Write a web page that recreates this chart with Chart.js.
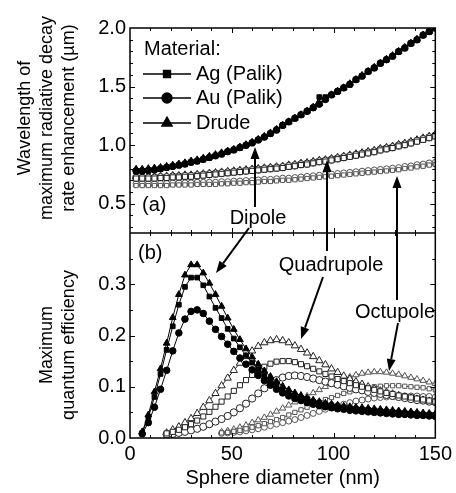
<!DOCTYPE html>
<html>
<head>
<meta charset="utf-8">
<script src="https://cdn.jsdelivr.net/npm/chart.js@4.4.0/dist/chart.umd.min.js"></script>
<style>
  html, body { margin: 0; padding: 0; background: #fff; }
  #grafico { display: block; }
</style>
</head>
<body>
<canvas id="grafico" width="456" height="493"></canvas>
<script>
// Sphere diameters (nm)
var diameters = [3, 6, 9, 12, 15, 18, 21, 24, 27, 30, 33, 36, 39, 42, 45, 48, 51, 54, 57, 60,
  63, 66, 69, 72, 75, 78, 81, 84, 87, 90, 93, 96, 99, 102, 105, 108, 111, 114, 117, 120,
  123, 126, 129, 132, 135, 138, 141, 144, 147, 150];

// (a) wavelength of maximum radiative decay rate enhancement (um)
var wlDipoleAg = [0.775, 0.775, 0.78, 0.785, 0.795, 0.805, 0.815, 0.825, 0.835, 0.85, 0.86, 0.875, 0.89, 0.905, 0.92, 0.94, 0.955, 0.975, 0.995, 1.015,
  1.04, 1.065, 1.095, 1.125, 1.165, 1.195, 1.225, 1.255, 1.285, 1.315, 1.41, 1.41, 1.425, 1.455, 1.485, 1.515, 1.555, 1.585, 1.625, 1.655,
  1.695, 1.725, 1.755, 1.795, 1.825, 1.865, 1.895, 1.935, 1.965, 1.995];
var wlDipoleAu = [0.78, 0.78, 0.785, 0.79, 0.8, 0.81, 0.82, 0.83, 0.84, 0.855, 0.865, 0.88, 0.895, 0.91, 0.925, 0.945, 0.96, 0.98, 1.0, 1.02,
  1.045, 1.07, 1.1, 1.13, 1.17, 1.2, 1.23, 1.26, 1.29, 1.32, 1.35, 1.39, 1.43, 1.46, 1.49, 1.52, 1.56, 1.59, 1.63, 1.66,
  1.7, 1.73, 1.76, 1.8, 1.83, 1.87, 1.9, 1.94, 1.97, 2.0];
var wlDipoleDrude = [0.795, 0.795, 0.8, 0.805, 0.81, 0.82, 0.83, 0.84, 0.85, 0.865, 0.875, 0.89, 0.905, 0.92, 0.935, 0.95, 0.965, 0.985, 1.005, 1.025,
  1.05, 1.075, 1.105, 1.135, 1.17, 1.2, 1.23, 1.26, 1.29, 1.325, 1.355, 1.395, 1.43, 1.46, 1.49, 1.525, 1.56, 1.595, 1.63, 1.665,
  1.7, 1.735, 1.765, 1.8, 1.835, 1.87, 1.905, 1.94, 1.97, 2.0];
var wlQuadAg = [0.715, 0.715, 0.715, 0.715, 0.72, 0.72, 0.725, 0.725, 0.73, 0.73, 0.735, 0.74, 0.745, 0.75, 0.755, 0.76, 0.765, 0.77, 0.775, 0.78,
  0.785, 0.79, 0.795, 0.8, 0.805, 0.815, 0.82, 0.83, 0.835, 0.845, 0.855, 0.86, 0.87, 0.88, 0.89, 0.9, 0.91, 0.92, 0.93, 0.94,
  0.955, 0.965, 0.975, 0.99, 1.0, 1.015, 1.03, 1.045, 1.06, 1.075];
var wlQuadAu = [0.722, 0.722, 0.722, 0.722, 0.727, 0.727, 0.732, 0.732, 0.737, 0.737, 0.742, 0.747, 0.752, 0.757, 0.762, 0.767, 0.772, 0.777, 0.782, 0.787,
  0.792, 0.797, 0.802, 0.807, 0.812, 0.822, 0.827, 0.837, 0.842, 0.852, 0.862, 0.867, 0.877, 0.887, 0.897, 0.907, 0.917, 0.927, 0.937, 0.947,
  0.962, 0.972, 0.982, 0.997, 1.007, 1.022, 1.037, 1.052, 1.067, 1.082];
var wlQuadDrude = [0.73, 0.73, 0.73, 0.73, 0.735, 0.735, 0.74, 0.74, 0.745, 0.745, 0.75, 0.755, 0.76, 0.765, 0.77, 0.775, 0.78, 0.785, 0.79, 0.795,
  0.8, 0.805, 0.81, 0.815, 0.82, 0.83, 0.835, 0.845, 0.85, 0.86, 0.87, 0.875, 0.885, 0.895, 0.905, 0.915, 0.925, 0.935, 0.945, 0.955,
  0.97, 0.98, 0.99, 1.005, 1.015, 1.03, 1.045, 1.06, 1.075, 1.09];
var wlOctAg = [0.655, 0.655, 0.655, 0.655, 0.655, 0.655, 0.66, 0.66, 0.66, 0.66, 0.665, 0.665, 0.665, 0.665, 0.67, 0.67, 0.675, 0.675, 0.68, 0.68,
  0.685, 0.69, 0.69, 0.695, 0.7, 0.7, 0.705, 0.71, 0.715, 0.72, 0.725, 0.73, 0.735, 0.74, 0.745, 0.75, 0.755, 0.76, 0.765, 0.77,
  0.775, 0.78, 0.785, 0.79, 0.8, 0.805, 0.815, 0.82, 0.83, 0.835];
var wlOctAu = [0.673, 0.673, 0.673, 0.673, 0.673, 0.673, 0.678, 0.678, 0.678, 0.678, 0.683, 0.683, 0.683, 0.683, 0.688, 0.688, 0.693, 0.693, 0.698, 0.698,
  0.703, 0.708, 0.708, 0.713, 0.718, 0.718, 0.723, 0.728, 0.733, 0.738, 0.743, 0.748, 0.753, 0.758, 0.763, 0.768, 0.773, 0.778, 0.783, 0.788,
  0.793, 0.798, 0.803, 0.808, 0.818, 0.823, 0.833, 0.838, 0.848, 0.853];
var wlOctDrude = [0.665, 0.665, 0.665, 0.665, 0.665, 0.665, 0.67, 0.67, 0.67, 0.67, 0.675, 0.675, 0.675, 0.675, 0.68, 0.68, 0.685, 0.685, 0.69, 0.69,
  0.695, 0.7, 0.7, 0.705, 0.71, 0.71, 0.715, 0.72, 0.725, 0.73, 0.735, 0.74, 0.745, 0.75, 0.755, 0.76, 0.765, 0.77, 0.775, 0.78,
  0.785, 0.79, 0.795, 0.8, 0.81, 0.815, 0.825, 0.83, 0.84, 0.845];

// (b) maximum quantum efficiency
var qeDipoleAg = [null, 0.01, 0.04, 0.08, 0.125, 0.172, 0.218, 0.26, 0.295, 0.313, 0.313, 0.298, 0.276, 0.254, 0.234, 0.213, 0.194, 0.177, 0.161, 0.147,
  0.134, 0.122, 0.111, 0.102, 0.094, 0.088, 0.083, 0.078, 0.075, 0.071, 0.068, 0.066, 0.064, 0.062, 0.06, 0.059, 0.057, 0.056, 0.055, 0.054,
  0.053, 0.052, 0.051, 0.05, 0.049, 0.048, 0.047, 0.046, 0.046, 0.045];
var qeDipoleAu = [null, 0.008, 0.03, 0.06, 0.095, 0.132, 0.17, 0.205, 0.232, 0.247, 0.25, 0.243, 0.228, 0.212, 0.198, 0.183, 0.169, 0.156, 0.144, 0.133,
  0.122, 0.112, 0.103, 0.095, 0.088, 0.082, 0.077, 0.073, 0.069, 0.066, 0.063, 0.061, 0.059, 0.057, 0.056, 0.054, 0.053, 0.052, 0.051, 0.05,
  0.049, 0.048, 0.047, 0.046, 0.046, 0.045, 0.044, 0.044, 0.043, 0.042];
var qeDipoleDrude = [null, 0.012, 0.045, 0.09, 0.135, 0.185, 0.235, 0.28, 0.318, 0.338, 0.338, 0.322, 0.302, 0.28, 0.257, 0.234, 0.212, 0.192, 0.174, 0.158,
  0.144, 0.131, 0.12, 0.11, 0.101, 0.094, 0.088, 0.083, 0.078, 0.074, 0.071, 0.068, 0.066, 0.064, 0.062, 0.061, 0.06, 0.059, 0.058, 0.057,
  0.056, 0.055, 0.054, 0.053, 0.052, 0.051, 0.05, 0.049, 0.048, 0.047];
var qeQuadAg = [null, null, null, null, null, 0.009, 0.012, 0.016, 0.021, 0.027, 0.034, 0.042, 0.051, 0.061, 0.071, 0.081, 0.092, 0.103, 0.113, 0.123,
  0.132, 0.139, 0.145, 0.149, 0.15, 0.15, 0.148, 0.144, 0.14, 0.135, 0.13, 0.125, 0.12, 0.115, 0.111, 0.107, 0.103, 0.1, 0.097, 0.094,
  0.091, 0.088, 0.086, 0.083, 0.081, 0.079, 0.077, 0.075, 0.073, 0.071];
var qeQuadAu = [null, null, null, null, null, 0.007, 0.008, 0.01, 0.012, 0.015, 0.018, 0.022, 0.027, 0.032, 0.037, 0.043, 0.05, 0.058, 0.067, 0.077,
  0.087, 0.097, 0.106, 0.113, 0.118, 0.121, 0.122, 0.121, 0.119, 0.116, 0.113, 0.11, 0.107, 0.104, 0.101, 0.098, 0.095, 0.093, 0.09, 0.088,
  0.086, 0.084, 0.082, 0.08, 0.078, 0.076, 0.074, 0.073, 0.071, 0.07];
var qeQuadDrude = [null, null, null, null, null, 0.01, 0.016, 0.022, 0.03, 0.038, 0.048, 0.06, 0.073, 0.087, 0.102, 0.117, 0.132, 0.146, 0.159, 0.17,
  0.179, 0.186, 0.19, 0.192, 0.19, 0.186, 0.18, 0.173, 0.166, 0.159, 0.151, 0.143, 0.135, 0.128, 0.121, 0.115, 0.11, 0.105, 0.1, 0.096,
  0.092, 0.089, 0.086, 0.083, 0.08, 0.078, 0.076, 0.074, 0.072, 0.07];
var qeOctAg = [null, null, null, null, null, null, null, null, null, null, null, null, null, null, 0.01, 0.011, 0.013, 0.015, 0.018, 0.021,
  0.024, 0.028, 0.032, 0.036, 0.04, 0.045, 0.05, 0.055, 0.06, 0.065, 0.07, 0.075, 0.079, 0.083, 0.087, 0.09, 0.093, 0.096, 0.098, 0.1,
  0.101, 0.102, 0.102, 0.102, 0.101, 0.1, 0.099, 0.098, 0.096, 0.094];
var qeOctAu = [null, null, null, null, null, null, null, null, null, null, null, null, null, null, 0.009, 0.01, 0.011, 0.012, 0.014, 0.016,
  0.018, 0.021, 0.024, 0.027, 0.03, 0.033, 0.036, 0.04, 0.044, 0.048, 0.052, 0.056, 0.06, 0.063, 0.066, 0.069, 0.072, 0.074, 0.076, 0.078,
  0.079, 0.08, 0.081, 0.082, 0.082, 0.082, 0.082, 0.081, 0.081, 0.08];
var qeOctDrude = [null, null, null, null, null, null, null, null, null, null, null, null, null, null, 0.012, 0.014, 0.017, 0.021, 0.025, 0.03,
  0.035, 0.04, 0.046, 0.052, 0.058, 0.064, 0.07, 0.076, 0.082, 0.088, 0.094, 0.1, 0.105, 0.11, 0.115, 0.119, 0.123, 0.126, 0.128, 0.129,
  0.129, 0.128, 0.126, 0.124, 0.121, 0.118, 0.115, 0.112, 0.109, 0.106];

// Tick labels
var xTicks = [0, 50, 100, 150];
var wlTicks = [0.5, 1.0, 1.5, 2.0];
var qeTicks = [0.0, 0.1, 0.2, 0.3];

var FONT = '"Liberation Sans", Arial, Helvetica, sans-serif';

// marker look per multipole order
var dipoleStyle = { fill: '#000', stroke: '#000', radius: 3.3 };
var quadStyle = { fill: '#fff', stroke: '#222', radius: 3.6 };
var octStyle = { fill: '#fff', stroke: '#555', radius: 3 };

function points(values) {
  var out = [];
  for (var i = 0; i < diameters.length; i++) {
    out.push({ x: diameters[i], y: values[i] });
  }
  return out;
}

function series(label, values, axis, shape, style) {
  var r = shape === 'triangle' ? style.radius + 0.6 : style.radius;
  return {
    label: label,
    data: points(values),
    yAxisID: axis,
    borderColor: style.stroke,
    borderWidth: 1,
    backgroundColor: style.fill,
    pointStyle: shape,
    pointRadius: r,
    pointBackgroundColor: style.fill,
    pointBorderColor: style.stroke,
    pointBorderWidth: 1,
    tension: 0,
    spanGaps: false
  };
}

function fixTicks(values) {
  return function(scale) {
    scale.ticks = values.map(function(v) { return { value: v }; });
  };
}

function arrow(ctx, x1, y1, x2, y2) {
  var ang = Math.atan2(y2 - y1, x2 - x1);
  var len = 12, half = 4.5;
  var bx = x2 - len * Math.cos(ang), by = y2 - len * Math.sin(ang);
  ctx.beginPath();
  ctx.moveTo(x1, y1);
  ctx.lineTo(bx, by);
  ctx.lineWidth = 2;
  ctx.strokeStyle = '#000';
  ctx.stroke();
  ctx.beginPath();
  ctx.moveTo(x2, y2);
  ctx.lineTo(bx + half * Math.sin(ang), by - half * Math.cos(ang));
  ctx.lineTo(bx - half * Math.sin(ang), by + half * Math.cos(ang));
  ctx.closePath();
  ctx.fillStyle = '#000';
  ctx.fill();
}

// frame, inward ticks, legend and annotations
var decorations = {
  id: 'decorations',
  afterDraw: function(chart) {
    var ctx = chart.ctx;
    var sx = chart.scales.x, st = chart.scales.yTop, sb = chart.scales.yBot;
    var left = sx.left, right = sx.right;
    var top = st.top, mid = st.bottom, bottom = sb.bottom;
    var d, v, px, py, len;

    ctx.save();
    ctx.strokeStyle = '#000';
    ctx.lineWidth = 1.5;
    ctx.strokeRect(left, top, right - left, bottom - top);
    ctx.beginPath();
    ctx.moveTo(left, mid);
    ctx.lineTo(right, mid);
    ctx.stroke();

    ctx.lineWidth = 1;
    ctx.beginPath();
    for (d = 10; d < 150; d += 10) {
      px = Math.round(sx.getPixelForValue(d)) + 0.5;
      len = d % 50 === 0 ? 5 : 3;
      ctx.moveTo(px, top); ctx.lineTo(px, top + len);
      ctx.moveTo(px, mid); ctx.lineTo(px, mid - len);
      ctx.moveTo(px, mid); ctx.lineTo(px, mid + len);
      ctx.moveTo(px, bottom); ctx.lineTo(px, bottom - len);
    }
    for (v = 3; v < 20; v++) {
      py = Math.round(st.getPixelForValue(v / 10)) + 0.5;
      len = v % 5 === 0 ? 5 : 3;
      ctx.moveTo(left, py); ctx.lineTo(left + len, py);
      ctx.moveTo(right, py); ctx.lineTo(right - len, py);
    }
    for (v = 1; v < 8; v++) {
      py = Math.round(sb.getPixelForValue(v / 20)) + 0.5;
      len = v % 2 === 0 ? 5 : 3;
      ctx.moveTo(left, py); ctx.lineTo(left + len, py);
      ctx.moveTo(right, py); ctx.lineTo(right - len, py);
    }
    ctx.stroke();

    // legend
    ctx.fillStyle = '#000';
    ctx.font = '20px ' + FONT;
    ctx.textAlign = 'left';
    ctx.textBaseline = 'middle';
    ctx.fillText('Material:', 144, 49);
    var legend = [['rect', 'Ag (Palik)', 74], ['circle', 'Au (Palik)', 98], ['triangle', 'Drude', 123]];
    legend.forEach(function(item) {
      ctx.beginPath();
      ctx.moveTo(143, item[2]);
      ctx.lineTo(191, item[2]);
      ctx.lineWidth = 1.3;
      ctx.strokeStyle = '#000';
      ctx.stroke();
      ctx.fillStyle = '#000';
      Chart.helpers.drawPoint(ctx, { pointStyle: item[0], rotation: 0, radius: item[0] === 'triangle' ? 6 : 5, borderWidth: 1 }, 167, item[2]);
      ctx.fillText(item[1], 196, item[2]);
    });

    ctx.fillText('(a)', 142, 205);
    ctx.fillText('(b)', 138, 253);

    ctx.textAlign = 'center';
    ctx.fillText('Dipole', 258, 218);
    ctx.fillText('Quadrupole', 331, 265);
    ctx.fillText('Octupole', 395, 312);

    arrow(ctx, 255, 207, 255, 147);
    arrow(ctx, 249, 228, 216, 273);
    arrow(ctx, 327, 251, 327, 160);
    arrow(ctx, 323, 277, 301, 339);
    arrow(ctx, 397, 300, 397, 176);
    arrow(ctx, 398, 323, 389, 371);

    // axis titles
    ctx.fillStyle = '#000';
    ctx.fillText('Sphere diameter (nm)', (left + right) / 2, 478);
    ctx.font = '18px ' + FONT;
    ctx.save();
    ctx.translate(25, 118);
    ctx.rotate(-Math.PI / 2);
    ctx.fillText('Wavelength of', 0, 0);
    ctx.fillText('maximum radiative decay', 0, 22);
    ctx.fillText('rate enhancement (\u00b5m)', 0, 44);
    ctx.restore();
    ctx.save();
    ctx.translate(47, 345);
    ctx.rotate(-Math.PI / 2);
    ctx.fillText('Maximum', 0, 0);
    ctx.fillText('quantum efficiency', 0, 22);
    ctx.restore();

    ctx.restore();
  }
};

var datasets = [
  series('Ag dipole', wlDipoleAg, 'yTop', 'rect', dipoleStyle),
  series('Au dipole', wlDipoleAu, 'yTop', 'circle', dipoleStyle),
  series('Drude dipole', wlDipoleDrude, 'yTop', 'triangle', dipoleStyle),
  series('Ag quadrupole', wlQuadAg, 'yTop', 'rect', quadStyle),
  series('Au quadrupole', wlQuadAu, 'yTop', 'circle', quadStyle),
  series('Drude quadrupole', wlQuadDrude, 'yTop', 'triangle', quadStyle),
  series('Ag octupole', wlOctAg, 'yTop', 'rect', octStyle),
  series('Au octupole', wlOctAu, 'yTop', 'circle', octStyle),
  series('Drude octupole', wlOctDrude, 'yTop', 'triangle', octStyle),
  series('Ag dipole', qeDipoleAg, 'yBot', 'rect', dipoleStyle),
  series('Au dipole', qeDipoleAu, 'yBot', 'circle', dipoleStyle),
  series('Drude dipole', qeDipoleDrude, 'yBot', 'triangle', dipoleStyle),
  series('Ag quadrupole', qeQuadAg, 'yBot', 'rect', quadStyle),
  series('Au quadrupole', qeQuadAu, 'yBot', 'circle', quadStyle),
  series('Drude quadrupole', qeQuadDrude, 'yBot', 'triangle', quadStyle),
  series('Ag octupole', qeOctAg, 'yBot', 'rect', octStyle),
  series('Au octupole', qeOctAu, 'yBot', 'circle', octStyle),
  series('Drude octupole', qeOctDrude, 'yBot', 'triangle', octStyle)
];

var tickFont = { family: FONT, size: 20 };

new Chart(document.getElementById('grafico').getContext('2d'), {
  type: 'line',
  data: { datasets: datasets },
  plugins: [decorations],
  options: {
    responsive: false,
    animation: false,
    layout: { padding: { top: 28, right: 17, bottom: 0, left: 0 } },
    plugins: { legend: { display: false }, tooltip: { enabled: false } },
    scales: {
      x: {
        type: 'linear', position: 'bottom', min: 0, max: 150,
        grid: { display: false, drawTicks: false },
        border: { display: false },
        ticks: { font: tickFont, color: '#000', padding: 4, maxRotation: 0 },
        afterBuildTicks: fixTicks(xTicks),
        afterFit: function(scale) { scale.height = 55; }
      },
      yTop: {
        type: 'linear', position: 'left', stack: 'panels', stackWeight: 1, weight: 1,
        min: 0.25, max: 2.0,
        grid: { display: false, drawTicks: false },
        border: { display: false },
        ticks: { font: tickFont, color: '#000', padding: 4, callback: function(v) { return v.toFixed(1); } },
        afterBuildTicks: fixTicks(wlTicks),
        afterFit: function(scale) { scale.width = 130; }
      },
      yBot: {
        type: 'linear', position: 'left', stack: 'panels', stackWeight: 1, weight: 0,
        min: 0, max: 0.4,
        grid: { display: false, drawTicks: false },
        border: { display: false },
        ticks: { font: tickFont, color: '#000', padding: 4, callback: function(v) { return v.toFixed(1); } },
        afterBuildTicks: fixTicks(qeTicks),
        afterFit: function(scale) { scale.width = 130; }
      }
    }
  }
});
</script>
</body>
</html>
